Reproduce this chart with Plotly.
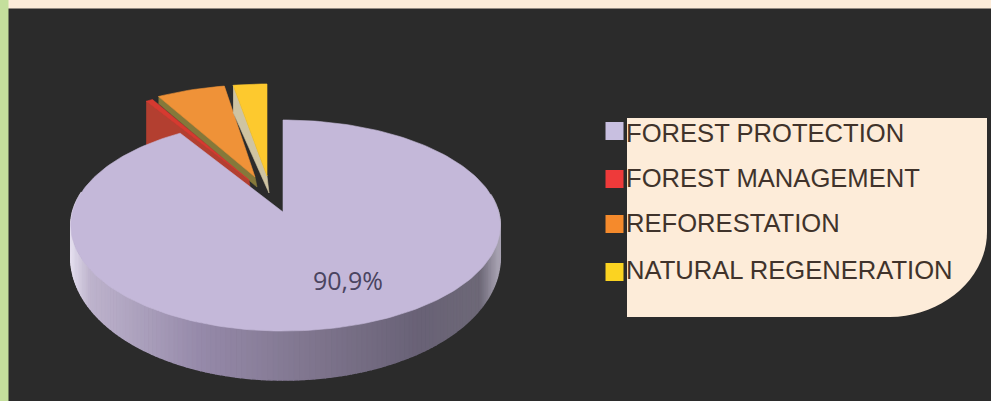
import math
import numpy as np
import plotly.graph_objects as go

# --- data ---
categories = ["FOREST PROTECTION", "FOREST MANAGEMENT", "REFORESTATION", "NATURAL REGENERATION"]
shares = [90.9, 0.6, 5.6, 2.9]
label_shown = [True, False, False, False]

# --- style ---
swatch_colors = ["#c8bfe0", "#ee3a3a", "#f58a2c", "#fbd321"]
top_colors = ["#c4b8d9", "#d63a30", "#ef9238", "#fdc92e"]
wall_colors = [None, "#b33f30", "#85783a", "#cfc4a2"]
apex = [(283, 212), (249, 180), (255, 177), (267, 176)]
wall_depth = [0, 43, 7, 27]
apex_depth = [0, 14, 10, 17]
RX_L, RX_R, RY, K = 210.5, 215.5, 103.8, 0.128
BG = "#2b2b2b"
CREAM = "#fdecd9"


def pt(theta, origin):
    u, v = math.sin(math.radians(theta)), -math.cos(math.radians(theta))
    w = 1 - K * v
    a = RX_R if u > 0 else RX_L
    return origin[0] + a * u / w, origin[1] + RY * v / w


def arc(t0, t1, origin, n=60):
    pts = [pt(t, origin) for t in np.linspace(t0, t1, n)]
    return [p[0] for p in pts], [p[1] for p in pts]


def poly(fig, xs, ys, color, width=0.6):
    fig.add_trace(go.Scatter(x=xs, y=ys, mode="lines", fill="toself", fillcolor=color,
                             line=dict(color=color, width=width), hoverinfo="skip", showlegend=False))


# clockwise angles from 12 o'clock; the first category starts there, the rest close the circle
main_end = shares[0] * 3.6
red_end = main_end + shares[1] * 3.6
orange_end = red_end + shares[2] * 3.6
spans = {0: (0, main_end), 1: (main_end, red_end), 2: (red_end, orange_end + 1), 3: (orange_end, 360)}

fig = go.Figure()


def exploded(i):
    t0, t1 = spans[i]
    ax, ay = apex[i]
    xs, ys = arc(t0, t1, (ax, ay), 12)
    # wall on the left-hand cut, seen through the gap
    ox, oy = pt(t0, (ax, ay))
    wall_x = [ox, ax, ax + 2, ox]
    wall_y = [oy, ay, ay + apex_depth[i], oy + wall_depth[i]]
    poly(fig, wall_x, wall_y, wall_colors[i])
    poly(fig, [ax] + xs + [ax], [ay] + ys + [ay], top_colors[i])


for i in (2, 3, 1):
    exploded(i)

# front side of the main slice
main = apex[0]
stops_x = [71, 90, 200, 300, 420, 480, 497, 501]
stops_r = [228, 190, 150, 130, 105, 110, 165, 170]
stops_g = [222, 180, 138, 120, 98, 105, 160, 165]
stops_b = [238, 205, 170, 145, 118, 120, 175, 180]


def depth(theta):
    v = -math.cos(math.radians(theta))
    return max(0.0, 29 + 20 * v)


angles = np.arange(80, 282, 1.25)
for a0, a1 in zip(angles[:-1], angles[1:]):
    x0, y0 = pt(a0, main)
    x1, y1 = pt(a1, main)
    xm = (x0 + x1) / 2
    c = "rgb(%d,%d,%d)" % (np.interp(xm, stops_x, stops_r), np.interp(xm, stops_x, stops_g), np.interp(xm, stops_x, stops_b))
    poly(fig, [x0, x1, x1, x0], [y0, y1, y1 + depth(a1), y0 + depth(a0)], c, width=1.5)

# top of the main slice
xs, ys = arc(0, main_end, main, 240)
poly(fig, [main[0]] + xs + [main[0]], [main[1]] + ys + [main[1]], top_colors[0])

# value label
labels = [f"{s:.1f}%".replace(".", ",") if show else "" for s, show in zip(shares, label_shown)]
fig.add_trace(go.Scatter(x=[348], y=[284], mode="text", text=[labels[0]], hoverinfo="skip", showlegend=False,
                         textfont=dict(family="Open Sans", size=25, color="#4a4460")))

# legend
leg_y = [131, 179, 224, 272]
text_y = [136, 181, 226, 273]
fig.add_trace(go.Scatter(x=[614.5] * 4, y=leg_y, mode="markers", hoverinfo="skip", showlegend=False,
                         marker=dict(symbol="square", size=18, color=swatch_colors, line=dict(width=0))))
fig.add_trace(go.Scatter(x=[626] * 4, y=text_y, mode="text", text=categories, textposition="middle right",
                         hoverinfo="skip", showlegend=False,
                         textfont=dict(family="Liberation Sans", size=25.6, color="#40332b")))

shapes = [
    dict(type="rect", x0=0, x1=991, y0=0, y1=8.5, fillcolor=CREAM, line_width=0, layer="below"),
    dict(type="rect", x0=0, x1=8.5, y0=0, y1=401, fillcolor="#c4df9c", line_width=0, layer="below"),
    dict(type="path", path="M 627 118 L 987 118 L 987 232 C 987 280 940 317 890 317 L 627 317 Z",
         fillcolor=CREAM, line_width=0, layer="below"),
]

fig.update_layout(
    width=991, height=401, margin=dict(l=0, r=0, t=0, b=0), autosize=False,
    paper_bgcolor=BG, plot_bgcolor=BG, shapes=shapes, showlegend=False,
    xaxis=dict(range=[0, 991], visible=False, fixedrange=True),
    yaxis=dict(range=[401, 0], visible=False, fixedrange=True),
)
fig.write_html("out.html", config=dict(displayModeBar=False),
               post_script="document.body.style.margin='0';document.documentElement.style.overflow='hidden';document.body.style.overflow='hidden';")
